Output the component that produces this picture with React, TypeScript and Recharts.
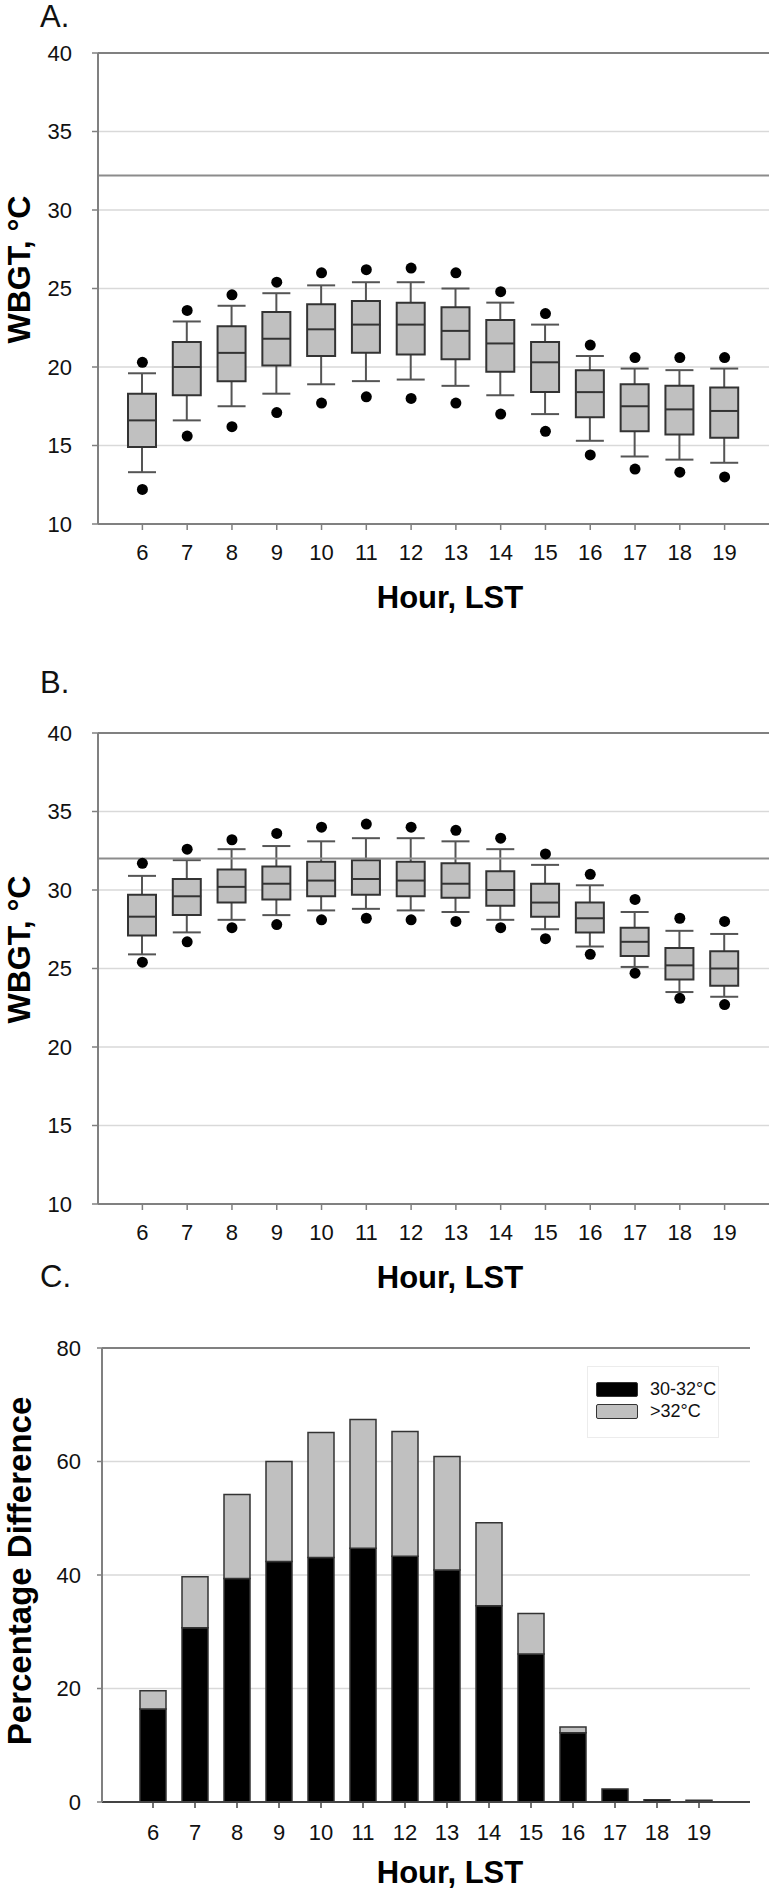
import React from 'react';
import {
  ComposedChart,
  BarChart,
  Bar,
  Line,
  XAxis,
  YAxis,
  CartesianGrid,
  ReferenceLine,
  Legend,
  Label
} from 'recharts';

const FONT = '"Liberation Sans", Arial, Helvetica, sans-serif';

const hours = ['6', '7', '8', '9', '10', '11', '12', '13', '14', '15', '16', '17', '18', '19'];

// Panel A - WBGT box plots
const aOutlierHigh = [20.3, 23.6, 24.6, 25.4, 26.0, 26.2, 26.3, 26.0, 24.8, 23.4, 21.4, 20.6, 20.6, 20.6];
const aWhiskerHigh = [19.6, 22.9, 23.9, 24.7, 25.2, 25.4, 25.4, 25.0, 24.1, 22.7, 20.7, 19.9, 19.8, 19.9];
const aQ3 = [18.3, 21.6, 22.6, 23.5, 24.0, 24.2, 24.1, 23.8, 23.0, 21.6, 19.8, 18.9, 18.8, 18.7];
const aMedian = [16.6, 20.0, 20.9, 21.8, 22.4, 22.7, 22.7, 22.3, 21.5, 20.3, 18.4, 17.5, 17.3, 17.2];
const aQ1 = [14.9, 18.2, 19.1, 20.1, 20.7, 20.9, 20.8, 20.5, 19.7, 18.4, 16.8, 15.9, 15.7, 15.5];
const aWhiskerLow = [13.3, 16.6, 17.5, 18.3, 18.9, 19.1, 19.2, 18.8, 18.2, 17.0, 15.3, 14.3, 14.1, 13.9];
const aOutlierLow = [12.2, 15.6, 16.2, 17.1, 17.7, 18.1, 18.0, 17.7, 17.0, 15.9, 14.4, 13.5, 13.3, 13.0];
const aThreshold = 32.2;

// Panel B - WBGT box plots
const bOutlierHigh = [31.7, 32.6, 33.2, 33.6, 34.0, 34.2, 34.0, 33.8, 33.3, 32.3, 31.0, 29.4, 28.2, 28.0];
const bWhiskerHigh = [30.9, 31.9, 32.6, 32.8, 33.1, 33.3, 33.3, 33.1, 32.6, 31.6, 30.3, 28.6, 27.4, 27.2];
const bQ3 = [29.7, 30.7, 31.3, 31.5, 31.8, 31.9, 31.8, 31.7, 31.2, 30.4, 29.2, 27.6, 26.3, 26.1];
const bMedian = [28.3, 29.6, 30.2, 30.4, 30.6, 30.7, 30.6, 30.4, 30.0, 29.2, 28.2, 26.7, 25.2, 25.0];
const bQ1 = [27.1, 28.4, 29.2, 29.4, 29.6, 29.7, 29.6, 29.5, 29.0, 28.3, 27.3, 25.8, 24.3, 23.9];
const bWhiskerLow = [25.9, 27.3, 28.1, 28.4, 28.7, 28.8, 28.7, 28.6, 28.1, 27.5, 26.4, 25.1, 23.5, 23.2];
const bOutlierLow = [25.4, 26.7, 27.6, 27.8, 28.1, 28.2, 28.1, 28.0, 27.6, 26.9, 25.9, 24.7, 23.1, 22.7];
const bThreshold = 32;

const wbgtTicks = [10, 15, 20, 25, 30, 35, 40];

// Panel C - percentage difference (stacked)
const cModerate = [16.4, 30.7, 39.4, 42.4, 43.1, 44.7, 43.3, 40.9, 34.6, 26.1, 12.2, 2.3, 0.4, 0.3];
const cHigh = [3.2, 9.0, 14.8, 17.6, 22.0, 22.7, 22.0, 20.0, 14.6, 7.1, 1.0, 0, 0, 0];
const pctTicks = [0, 20, 40, 60, 80];

function buildBoxRows(
  lo: number[], q1: number[], med: number[], q3: number[], hi: number[], outLo: number[], outHi: number[]
) {
  return hours.map((h, i) => ({
    hour: h,
    whisker: [lo[i], hi[i]],
    box: [q1[i], q3[i]],
    median: med[i],
    outHi: outHi[i],
    outLo: outLo[i]
  }));
}

const rowsA = buildBoxRows(aWhiskerLow, aQ1, aMedian, aQ3, aWhiskerHigh, aOutlierLow, aOutlierHigh);
const rowsB = buildBoxRows(bWhiskerLow, bQ1, bMedian, bQ3, bWhiskerHigh, bOutlierLow, bOutlierHigh);
const rowsC = hours.map((h, i) => ({ hour: h, moderate: cModerate[i], high: cHigh[i] }));

const AXIS = '#808080';
const GRID = '#d9d9d9';

const Whisker = (props: any) => {
  const { x, y, width, height } = props;
  const cx = x + width / 2;
  const top = Math.min(y, y + height);
  const bottom = Math.max(y, y + height);
  return (
    <g stroke="#555" strokeWidth={2}>
      <line x1={cx} x2={cx} y1={top} y2={bottom} />
      <line x1={x} x2={x + width} y1={top} y2={top} />
      <line x1={x} x2={x + width} y1={bottom} y2={bottom} />
    </g>
  );
};

const MedianMark = (props: any) => {
  const { cx, cy, index } = props;
  return (
    <line key={`med-${index}`} x1={cx - 14} x2={cx + 14} y1={cy} y2={cy} stroke="#333" strokeWidth={2} />
  );
};

const yTitle = (text: string, baseX: number, dy: number, size: number) => (p: any) => {
  const vb = p.viewBox;
  const cy = vb.y + vb.height / 2 + dy;
  return (
    <text
      x={baseX}
      y={cy}
      transform={`rotate(-90, ${baseX}, ${cy})`}
      textAnchor="middle"
      fontSize={size}
      fontWeight="bold"
      fontFamily={FONT}
      fill="#000"
    >
      {text}
    </text>
  );
};

const xTitle = (text: string, cx: number, dy: number) => (p: any) => {
  const vb = p.viewBox;
  return (
    <text
      x={cx}
      y={vb.y + dy}
      textAnchor="middle"
      dominantBaseline="central"
      fontSize={31}
      fontWeight="bold"
      fontFamily={FONT}
      fill="#000"
    >
      {text}
    </text>
  );
};

const tickStyle = { fontSize: 22, fill: '#111', fontFamily: FONT };

function BoxPanel({ rows, threshold }: { rows: any[]; threshold: number }) {
  return (
    <ComposedChart
      width={772}
      height={640}
      data={rows}
      margin={{ top: 53, right: 3, bottom: 0, left: 0 }}
      barGap={-28}
    >
      <CartesianGrid vertical={false} stroke={GRID} strokeWidth={1.5} />
      <XAxis
        dataKey="hour"
        interval={0}
        padding={{ left: 22, right: 22 }}
        height={116}
        tickSize={6}
        tickMargin={14}
        tick={tickStyle}
        axisLine={{ stroke: AXIS, strokeWidth: 2 }}
        tickLine={{ stroke: AXIS, strokeWidth: 1.5 }}
      >
        <Label content={xTitle('Hour, LST', 450, 73)} />
      </XAxis>
      <YAxis
        type="number"
        domain={[10, 40]}
        ticks={wbgtTicks}
        interval={0}
        width={98}
        tickSize={6}
        tickMargin={20}
        tick={tickStyle}
        axisLine={{ stroke: AXIS, strokeWidth: 2 }}
        tickLine={{ stroke: AXIS, strokeWidth: 1.5 }}
      >
        <Label content={yTitle('WBGT, °C', 30, -19, 32)} />
      </YAxis>
      <YAxis
        yAxisId="frame"
        orientation="right"
        type="number"
        domain={[10, 40]}
        allowDataOverflow
        width={0}
        tick={false}
        tickLine={false}
        axisLine={{ stroke: AXIS, strokeWidth: 2 }}
      />
      <ReferenceLine y={40} stroke={AXIS} strokeWidth={2} />
      <ReferenceLine y={threshold} stroke="#8c8c8c" strokeWidth={2} />
      <Bar dataKey="whisker" barSize={28} shape={<Whisker />} isAnimationActive={false} />
      <Bar
        dataKey="box"
        barSize={28}
        fill="#c0c0c0"
        stroke="#333"
        strokeWidth={2}
        isAnimationActive={false}
      />
      <Line
        dataKey="median"
        stroke="none"
        dot={MedianMark}
        activeDot={false}
        isAnimationActive={false}
      />
      <Line
        dataKey="outHi"
        stroke="none"
        dot={{ r: 5.5, fill: '#000', stroke: 'none' }}
        activeDot={false}
        isAnimationActive={false}
      />
      <Line
        dataKey="outLo"
        stroke="none"
        dot={{ r: 5.5, fill: '#000', stroke: 'none' }}
        activeDot={false}
        isAnimationActive={false}
      />
    </ComposedChart>
  );
}

const LegendBox = (props: any) => {
  const items = props.payload || [];
  return (
    <div
      style={{
        border: '1px solid #ececec',
        height: 72,
        boxSizing: 'border-box',
        paddingTop: 11,
        paddingLeft: 8,
        fontFamily: FONT,
        fontSize: 18,
        color: '#111'
      }}
    >
      {items.map((it: any) => (
        <div key={it.value} style={{ display: 'flex', alignItems: 'center', height: 22 }}>
          <span
            style={{
              display: 'inline-block',
              width: 40,
              height: 13,
              background: it.color,
              border: '1.5px solid #333',
              borderRadius: 2
            }}
          />
          <span style={{ marginLeft: 12, lineHeight: '18px' }}>{it.value}</span>
        </div>
      ))}
    </div>
  );
};

function PercentPanel() {
  return (
    <BarChart
      width={772}
      height={589}
      data={rowsC}
      margin={{ top: 48, right: 22, bottom: 0, left: 0 }}
    >
      <CartesianGrid vertical={false} stroke={GRID} strokeWidth={1.5} />
      <XAxis
        dataKey="hour"
        interval={0}
        padding={{ left: 30, right: 30 }}
        height={87}
        tickSize={6}
        tickMargin={16}
        tick={tickStyle}
        axisLine={{ stroke: '#444', strokeWidth: 2 }}
        tickLine={{ stroke: '#444', strokeWidth: 1.5 }}
      >
        <Label content={xTitle('Hour, LST', 450, 70)} />
      </XAxis>
      <YAxis
        type="number"
        domain={[0, 80]}
        ticks={pctTicks}
        interval={0}
        width={102}
        tickSize={5}
        tickMargin={16}
        tick={tickStyle}
        axisLine={{ stroke: AXIS, strokeWidth: 2 }}
        tickLine={{ stroke: AXIS, strokeWidth: 1.5 }}
      >
        <Label content={yTitle('Percentage Difference', 31, -4, 33)} />
      </YAxis>
      <YAxis
        yAxisId="frame"
        orientation="right"
        type="number"
        domain={[0, 80]}
        allowDataOverflow
        width={0}
        tick={false}
        tickLine={false}
        axisLine={{ stroke: AXIS, strokeWidth: 2 }}
      />
      <ReferenceLine y={80} stroke={AXIS} strokeWidth={2} />
      <Legend
        layout="horizontal"
        align="center"
        verticalAlign="middle"
        content={LegendBox}
        wrapperStyle={{ top: 66, left: 587, width: 132, height: 72 }}
      />
      <Bar
        dataKey="moderate"
        name="30-32°C"
        stackId="pct"
        barSize={26}
        fill="#000"
        stroke="#333"
        strokeWidth={1.5}
        isAnimationActive={false}
      />
      <Bar
        dataKey="high"
        name=">32°C"
        stackId="pct"
        barSize={26}
        fill="#c0c0c0"
        stroke="#333"
        strokeWidth={1.5}
        isAnimationActive={false}
      />
    </BarChart>
  );
}

const letterStyle: React.CSSProperties = {
  position: 'absolute',
  fontFamily: FONT,
  fontSize: 31,
  lineHeight: '31px',
  color: '#111'
};

export default function App() {
  return (
    <div style={{ position: 'absolute', left: 0, top: 0, width: 772, height: 1889, background: '#fff' }}>
      <div style={{ ...letterStyle, left: 40, top: 1 }}>A.</div>
      <div style={{ position: 'absolute', left: 0, top: 0 }}>
        <BoxPanel rows={rowsA} threshold={aThreshold} />
      </div>
      <div style={{ ...letterStyle, left: 40, top: 667 }}>B.</div>
      <div style={{ position: 'absolute', left: 0, top: 680 }}>
        <BoxPanel rows={rowsB} threshold={bThreshold} />
      </div>
      <div style={{ ...letterStyle, left: 40, top: 1261 }}>C.</div>
      <div style={{ position: 'absolute', left: 0, top: 1300 }}>
        <PercentPanel />
      </div>
    </div>
  );
}
